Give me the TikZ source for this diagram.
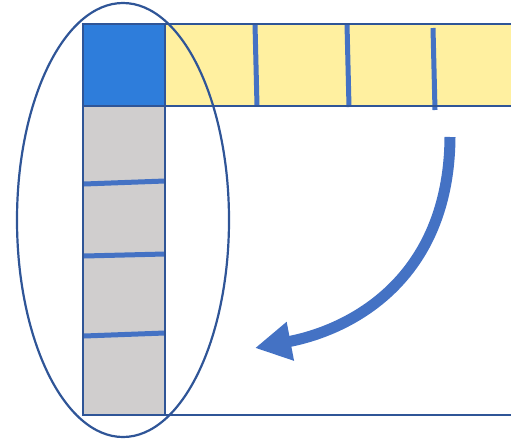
\documentclass[tikz,border=0pt]{standalone}
\usetikzlibrary{arrows.meta}
\definecolor{edgeblue}{HTML}{2F5597}
\definecolor{markblue}{HTML}{4472C4}
\definecolor{headblue}{HTML}{2E7DDB}
\definecolor{rowyellow}{HTML}{FFF0A0}
\definecolor{colgray}{HTML}{D0CECE}
\tikzset{
  outline/.style={draw=edgeblue, line width=2.4pt},
  divider/.style={draw=markblue, line width=5pt},
  ring/.style={draw=edgeblue, line width=2.2pt},
  sweep/.style={draw=markblue, line width=11pt,
    -{Triangle[length=36pt,width=37pt]}},
}
\begin{document}
\begin{tikzpicture}[x=1pt,y=-1pt]
\useasboundingbox (0,0) rectangle (511,442);

% row (yellow) and column (gray) fills
\fill[rowyellow] (165,24) rectangle (511,106);
\fill[colgray] (83,106) rectangle (165,415);
\fill[headblue] (83,24) rectangle (165,106);

% cell separators in the row
\draw[divider] (255,24) -- (257,106);
\draw[divider] (347,24) -- (349,107);
\draw[divider] (433,28) -- (435,110);

% cell separators in the column
\draw[divider] (84,184) -- (165,181);
\draw[divider] (84,256) -- (165,254);
\draw[divider] (84,336) -- (165,333);

% outlines
\draw[outline] (165,24) -- (511,24);
\draw[outline] (165,106) -- (511,106);
\draw[outline] (83,24) rectangle (165,106);
\draw[outline] (83,106) rectangle (165,415);
\draw[outline, line width=2pt] (165,415) -- (511,415);

% ellipse around the first column
\draw[ring] (123,220) ellipse [x radius=106, y radius=217];

% curved arrow
\coordinate (from) at (450,137);
\coordinate (to) at (255,348);
\path[sweep] (from) .. controls (449,280) and (350,330) .. (to);
\end{tikzpicture}
\end{document}
